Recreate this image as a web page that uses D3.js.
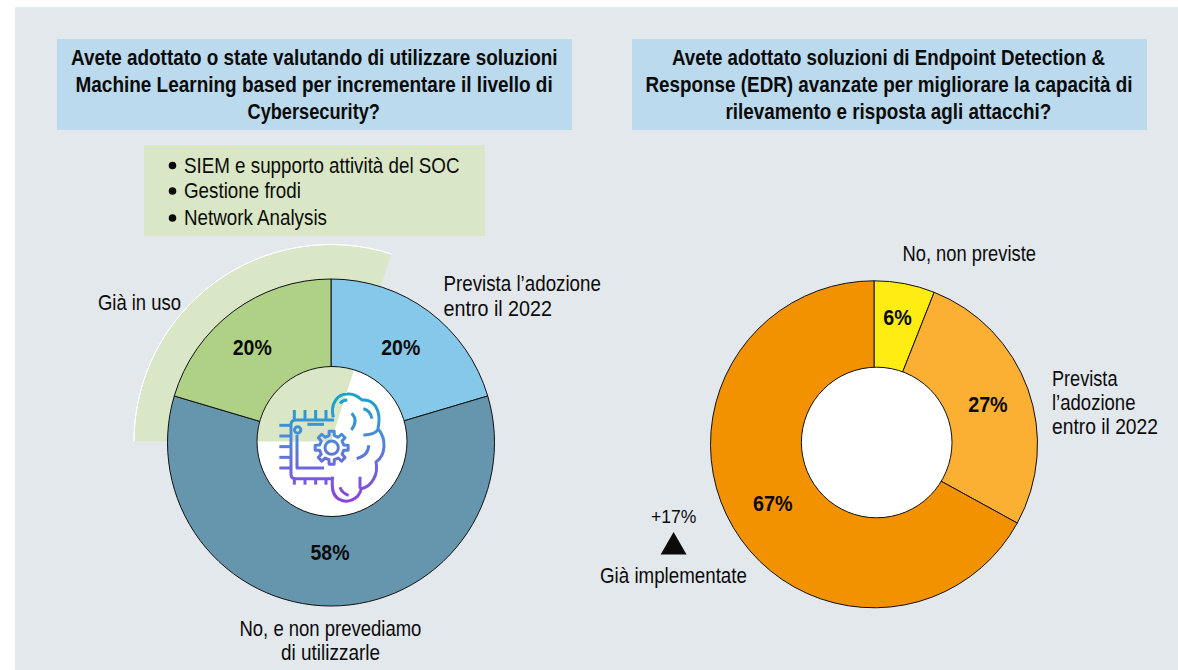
<!DOCTYPE html>
<html lang="it"><head><meta charset="utf-8">
<script src="https://cdn.jsdelivr.net/npm/d3@7"></script>
<style>html,body{margin:0;padding:0;background:#fff}svg{display:block}text{font-family:"Liberation Sans",Arial,sans-serif;fill:#0b0b0b}</style>
</head><body><svg id="c" width="1178" height="670"></svg>
<script>
// ---- data ----
const mlCategories = ["Prevista l’adozione entro il 2022", "No, e non prevediamo di utilizzarle", "Già in uso"];
const mlValues = [20, 58, 20];
const mlColors = ["#85c8e9", "#6696ad", "#afd186"];
const edrCategories = ["No, non previste", "Prevista l’adozione entro il 2022", "Già implementate"];
const edrValues = [6, 27, 67];
const edrColors = ["#ffed12", "#fbb034", "#f39200"];
const useCases = ["SIEM e supporto attività del SOC", "Gestione frodi", "Network Analysis"];
const edrDelta = "+17%";
const titleLeft = ["Avete adottato o state valutando di utilizzare soluzioni", "Machine Learning based per incrementare il livello di", "Cybersecurity?"];
const titleRight = ["Avete adottato soluzioni di Endpoint Detection &", "Response (EDR) avanzate per migliorare la capacità di", "rilevamento e risposta agli attacchi?"];

// ---- layout ----
const svg = d3.select("#c");
const FS = 22.5;
function label(x, y, str, width, opt = {}) {
  // x is the left edge; width is the line width in the layout: condensed type by horizontal scaling
  const t = svg.append("text").text(str)
    .attr("font-size", opt.size || FS).attr("font-weight", opt.bold ? 700 : 400);
  const natural = t.node().getComputedTextLength();
  t.attr("transform", `translate(${x},${y}) scale(${width / natural},1)`);
  return t;
}
const rect = (x, y, w, h, fill) => svg.append("rect").attr("x", x).attr("y", y).attr("width", w).attr("height", h).attr("fill", fill);

rect(15, 7, 1163, 663, "#e3e8ed");
rect(57, 39, 515, 91, "#bbdaed");
rect(632, 39, 515, 91, "#bbdaed");
rect(144, 145, 341, 91, "#d9e7c6");

[[71, 65, 487], [75.5, 92, 477.5], [247.5, 119, 132.5]].forEach((p, i) => label(p[0], p[1], titleLeft[i], p[2], {bold: true}));
[[672, 65, 433.5], [645.5, 92, 487], [725.5, 119, 326]].forEach((p, i) => label(p[0], p[1], titleRight[i], p[2], {bold: true}));

[[172.5, 275.5], [198, 117], [225, 143]].forEach((p, i) => {
  svg.append("circle").attr("cx", 172.5).attr("cy", p[0] - 7).attr("r", 3.8).attr("fill", "#0b0b0b");
  label(184, p[0], useCases[i], p[1]);
});

const deg = Math.PI / 180;
const pie = d3.pie().sort(null);

// ---- left chart ----
const L = {x: 331, y: 442.5, r: 163.5, hx: 332, hy: 441.5, hr: 75};
const wedge = d3.arc().innerRadius(0).outerRadius(197).startAngle(-90 * deg).endAngle(17.8 * deg);
const gL = svg.append("g").attr("transform", `translate(${L.x},${L.y - 1})`);
gL.append("path").attr("d", wedge()).attr("fill", "#d9e7c6");
gL.append("path").attr("d", d3.arc().innerRadius(197).outerRadius(197).startAngle(-90 * deg).endAngle(17.8 * deg)()).attr("fill", "none").attr("stroke", "#fff").attr("stroke-width", 1);

const arcFull = r => d3.arc().innerRadius(0).outerRadius(r);
const gL2 = svg.append("g").attr("transform", `translate(${L.x},${L.y})`);
const mlArcs = pie(mlValues);
gL2.selectAll("path").data(mlArcs).join("path")
  .attr("d", arcFull(L.r)).attr("fill", (d, i) => mlColors[i]).attr("stroke", "#111").attr("stroke-width", 1);

svg.append("clipPath").attr("id", "hole").append("circle").attr("cx", L.hx).attr("cy", L.hy).attr("r", L.hr);
svg.append("circle").attr("cx", L.hx).attr("cy", L.hy).attr("r", L.hr).attr("fill", "#fff");
svg.append("g").attr("clip-path", "url(#hole)").append("path")
  .attr("transform", `translate(${L.x},${L.y - 1})`).attr("d", wedge()).attr("fill", "#d9e7c6");
svg.append("circle").attr("cx", L.hx).attr("cy", L.hy).attr("r", L.hr).attr("fill", "none").attr("stroke", "#111").attr("stroke-width", 1);

const labelArc = d3.arc().innerRadius(120).outerRadius(120);
const mlNudge = [[-2, 2], [-1, -10], [-7, 2]];
mlArcs.forEach((a, i) => {
  const [cx, cy] = labelArc.centroid(a);
  label(L.x + cx + mlNudge[i][0] - 19.5, L.y + cy + mlNudge[i][1] + 7, mlValues[i] + "%", 39, {bold: true});
});

label(443.5, 291, "Prevista l’adozione", 157.5);
label(443.5, 315.5, "entro il 2022", 108.5);
label(98, 310, mlCategories[2], 83);
label(239.5, 636, "No, e non prevediamo", 182);
label(281, 660, "di utilizzarle", 99);

// icon (decorative)
const defs = svg.append("defs");
const grad = defs.append("linearGradient").attr("id", "ig").attr("gradientUnits", "userSpaceOnUse")
  .attr("x1", 0).attr("y1", 35).attr("x2", 0).attr("y2", 370);
[[0, "#14a5c8"], [0.4, "#4c8bd8"], [1, "#8f3fdd"]].forEach(s => grad.append("stop").attr("offset", s[0]).attr("stop-color", s[1]));
const ic = svg.append("g").attr("transform", "translate(250,380) scale(0.3333)")
  .attr("fill", "none").attr("stroke", "url(#ig)").attr("stroke-width", 9).attr("stroke-linecap", "butt").attr("stroke-linejoin", "round");
ic.append("path").attr("d", "M252 120H137Q123 120 123 134V282Q123 296 137 296H245");
ic.append("path").attr("d", "M141 165V264H222");
ic.append("circle").attr("cx", 143).attr("cy", 150).attr("r", 9.5);
ic.append("path").attr("d", "M172 133H222");
[133, 165, 197, 228].forEach(x => {
  ic.append("path").attr("d", `M${x} 90V118`);
  ic.append("path").attr("d", `M${x} 296V314`);
});
[136, 168, 200, 232, 264].forEach(y => ic.append("path").attr("d", `M88 ${y}H122`));
const teeth = 8, gearPts = [];
for (let i = 0; i < teeth; i++) {
  const a = i / teeth * 2 * Math.PI;
  [[-0.22, 37], [-0.15, 50], [0.15, 50], [0.22, 37]].forEach(p => gearPts.push([245 + p[1] * Math.cos(a + p[0]), 203 + p[1] * Math.sin(a + p[0])]));
}
ic.append("path").attr("d", d3.line().curve(d3.curveLinearClosed)(gearPts));
ic.append("circle").attr("cx", 245).attr("cy", 203).attr("r", 20);
ic.append("path").attr("d", "M250 112C240 72 262 42 292 42C312 40 326 50 336 60C372 56 396 92 384 146C410 176 408 226 378 246C386 282 366 320 334 326C326 360 290 372 268 358C248 348 244 326 248 290");
ic.append("path").attr("d", "M270 70Q278 60 292 60M305 100Q326 122 304 150M340 86Q360 90 366 116M340 165Q370 166 386 148M356 196Q356 226 320 236M270 322Q276 340 296 346M330 326V290");

// ---- right chart ----
const R = {x: 874, y: 444.3, r: 163.5, hx: 876.7, hy: 442.5, hr: 75.3};
const gR = svg.append("g").attr("transform", `translate(${R.x},${R.y})`);
const edrArcs = pie(edrValues);
gR.selectAll("path").data(edrArcs).join("path")
  .attr("d", arcFull(R.r)).attr("fill", (d, i) => edrColors[i]).attr("stroke", "#111").attr("stroke-width", 1);
svg.append("circle").attr("cx", R.hx).attr("cy", R.hy).attr("r", R.hr).attr("fill", "#fff").attr("stroke", "#111").attr("stroke-width", 1);

const edrNudge = [[1, -8], [1, 1], [2, -1]];
const edrW = [28.5, 39.5, 39.5];
edrArcs.forEach((a, i) => {
  const [cx, cy] = labelArc.centroid(a);
  label(R.x + cx + edrNudge[i][0] - edrW[i] / 2, R.y + cy + edrNudge[i][1] + 7, edrValues[i] + "%", edrW[i], {bold: true});
});

label(902.5, 260.5, edrCategories[0], 133.5);
label(1052, 385.5, "Prevista", 65.5);
label(1052, 410, "l’adozione", 83.5);
label(1052, 434, "entro il 2022", 106);
label(600, 582.5, edrCategories[2], 147);
label(651, 523, edrDelta, 45.5, {size: 18});
svg.append("path").attr("d", d3.symbol().type(d3.symbolTriangle).size(290)()).attr("transform", "translate(673.6,547)").attr("fill", "#0b0b0b");
</script></body></html>
